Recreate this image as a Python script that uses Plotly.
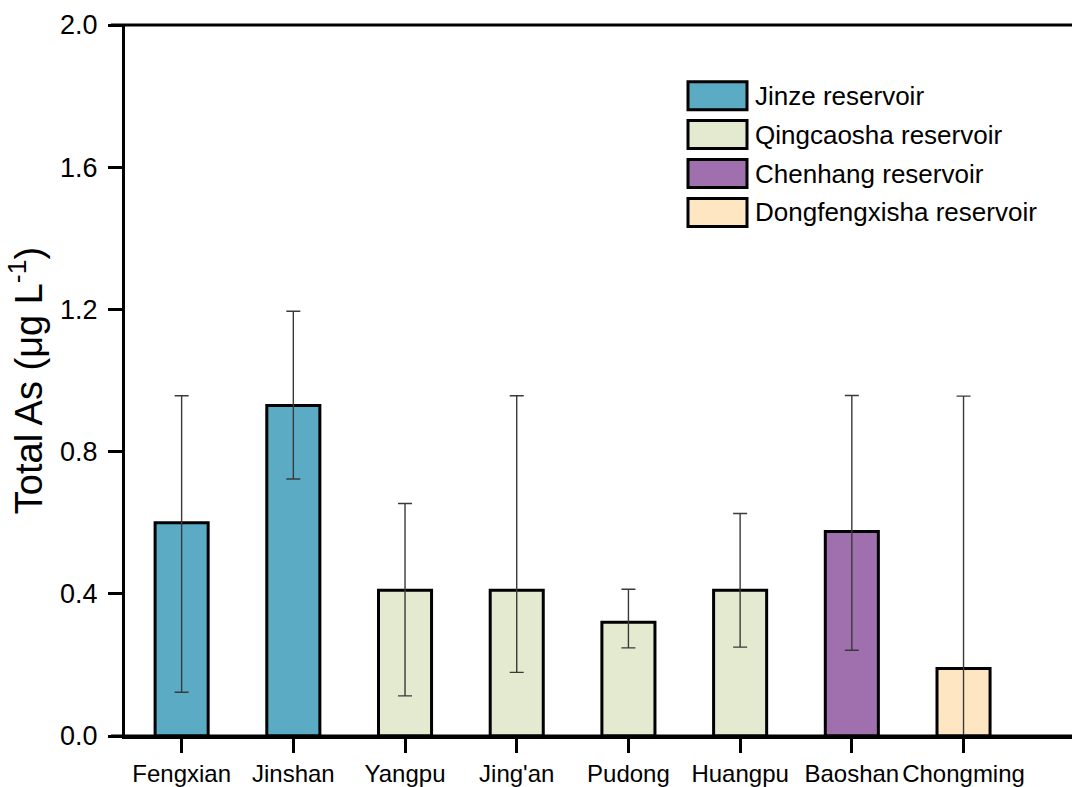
import plotly.graph_objects as go

# Sampling districts and the reservoir that supplies each
sites = ["Fengxian", "Jinshan", "Yangpu", "Jing'an", "Pudong", "Huangpu", "Baoshan", "Chongming"]
source = ["Jinze reservoir", "Jinze reservoir", "Qingcaosha reservoir", "Qingcaosha reservoir",
          "Qingcaosha reservoir", "Qingcaosha reservoir", "Chenhang reservoir", "Dongfengxisha reservoir"]

# Mean total arsenic (µg/L) with the upper and lower ends of the range
mean_as = [0.60, 0.93, 0.41, 0.41, 0.32, 0.41, 0.575, 0.19]
upper_as = [0.957, 1.195, 0.654, 0.957, 0.413, 0.626, 0.958, 0.956]
lower_as = [0.123, 0.723, 0.113, 0.179, 0.248, 0.250, 0.241, 0.0]

reservoirs = ["Jinze reservoir", "Qingcaosha reservoir", "Chenhang reservoir", "Dongfengxisha reservoir"]
colors = ["#5BABC4", "#E3EACF", "#9F6FAE", "#FFE6C3"]

y_ticks = [0.0, 0.4, 0.8, 1.2, 1.6, 2.0]

FONT = "Arial, 'Liberation Sans', sans-serif"

W, H = 1072, 787
L, R, T, B = 125, 0, 25, 51
plot_w, plot_h = W - L - R, H - T - B
cat_px = 111.7  # pixel spacing between categories
x0 = -0.507
x1 = x0 + plot_w / cat_px

fig = go.Figure()
for res, col in zip(reservoirs, colors):
    idx = [i for i, s in enumerate(source) if s == res]
    xs = [sites[i] for i in idx]
    ys = [mean_as[i] for i in idx]
    plus = [upper_as[i] - mean_as[i] for i in idx]
    minus = [mean_as[i] - lower_as[i] for i in idx]
    fig.add_trace(go.Bar(
        x=xs, y=ys, name=res, width=0.475,
        marker=dict(color=col, line=dict(color="black", width=3)),
        error_y=dict(type="data", symmetric=False, array=plus, arrayminus=minus,
                     color="#3a3a3a", thickness=1.4, width=7),
        showlegend=False,
    ))


def px_x(p):
    return (p - L) / plot_w


def px_y(p):
    return (H - B - p) / plot_h


# Legend drawn as large outlined swatches with labels
shapes = []
annotations = []
row0, row_step = 95.7, 38.9
for k, (res, col) in enumerate(zip(reservoirs, colors)):
    cy = row0 + k * row_step
    shapes.append(dict(type="rect", xref="paper", yref="paper",
                       x0=px_x(688), x1=px_x(747), y0=px_y(cy + 14), y1=px_y(cy - 14),
                       fillcolor=col, line=dict(color="black", width=3)))
    annotations.append(dict(xref="paper", yref="paper", x=px_x(753), y=px_y(cy),
                            xanchor="left", yanchor="middle", text=res, showarrow=False,
                            font=dict(family=FONT, size=26, color="black")))

# Frame lines at top and bottom that run slightly past the y axis
for yv in (0, 1):
    shapes.append(dict(type="line", xref="paper", yref="paper",
                       x0=px_x(111), x1=1.0, y0=yv, y1=yv,
                       line=dict(color="black", width=3)))

fig.update_layout(
    width=W, height=H,
    margin=dict(l=L, r=R, t=T, b=B),
    paper_bgcolor="white", plot_bgcolor="white",
    barmode="overlay",
    shapes=shapes, annotations=annotations,
    font=dict(family=FONT, color="black"),
    xaxis=dict(
        type="category", categoryorder="array", categoryarray=sites,
        range=[x0, x1],
        showline=True, linecolor="black", linewidth=3,
        ticks="outside", ticklen=14, tickwidth=2.5, tickcolor="black",
        tickfont=dict(family=FONT, size=24, color="black"),
        showgrid=False, zeroline=False,
    ),
    yaxis=dict(
        range=[0, 2.0], tickvals=y_ticks, ticktext=[f"{v:.1f}" for v in y_ticks],
        showline=True, linecolor="black", linewidth=3,
        ticks="outside", ticklen=14, tickwidth=2.5, tickcolor="black",
        tickfont=dict(family=FONT, size=27, color="black"),
        ticklabelstandoff=5,
        showgrid=False, zeroline=False,
        title=dict(text="Total As (μg L<sup>-1</sup>)", standoff=6,
                   font=dict(family=FONT, size=38, color="black")),
    ),
)

fig.write_html("out.html")
